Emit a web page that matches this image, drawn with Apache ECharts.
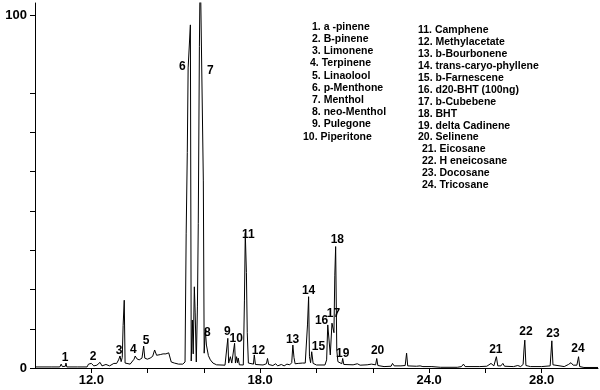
<!DOCTYPE html>
<html>
<head>
<meta charset="utf-8">
<script src="https://cdn.jsdelivr.net/npm/echarts@6/dist/echarts.min.js"></script>
<style>
  html, body { margin: 0; padding: 0; background: #fff; }
  #chart { width: 600px; height: 390px; }
</style>
</head>
<body>
<div id="chart"></div>
<script>
// ---- Data (retention time in minutes, relative abundance %) ----
const retentionTime = [
  10.00, 10.60, 10.88, 10.93, 10.97, 11.08, 11.10, 11.13, 11.50, 11.85,
  11.90, 11.95, 12.00, 12.06, 12.09, 12.20, 12.25, 12.31, 12.38, 12.45,
  12.52, 12.58, 12.65, 12.72, 12.80, 12.85, 12.90, 12.97, 13.02, 13.06,
  13.10, 13.13, 13.17, 13.20, 13.27, 13.38, 13.45, 13.52, 13.56, 13.62,
  13.70, 13.80, 13.86, 13.90, 13.99, 14.09, 14.18, 14.25, 14.32, 14.45,
  14.55, 14.65, 14.75, 14.80, 14.84, 14.95, 15.10, 15.25, 15.33, 15.37,
  15.41, 15.44, 15.48, 15.52, 15.55, 15.59, 15.62, 15.66, 15.69, 15.73,
  15.77, 15.80, 15.84, 15.87, 15.94, 15.98, 16.01, 16.05, 16.09, 16.16,
  16.23, 16.32, 16.45, 16.75, 16.82, 16.85, 16.88, 16.94, 16.99, 17.06,
  17.09, 17.12, 17.16, 17.19, 17.22, 17.26, 17.40, 17.44, 17.47, 17.51,
  17.54, 17.58, 17.65, 17.76, 17.79, 17.83, 18.10, 18.22, 18.26, 18.30,
  18.45, 18.55, 18.62, 18.75, 18.85, 18.95, 19.05, 19.12, 19.16, 19.20,
  19.24, 19.35, 19.50, 19.60, 19.65, 19.68, 19.72, 19.75, 19.79, 19.83,
  19.88, 20.00, 20.30, 20.36, 20.40, 20.44, 20.49, 20.55, 20.59, 20.62,
  20.65, 20.68, 20.72, 20.76, 20.90, 20.93, 20.97, 21.30, 21.45, 21.55,
  21.80, 21.95, 22.10, 22.14, 22.18, 22.40, 22.65, 22.70, 22.76, 23.00,
  23.15, 23.20, 23.24, 23.55, 23.68, 23.72, 23.78, 24.10, 24.40, 25.00,
  25.15, 25.22, 25.28, 25.80, 26.05, 26.20, 26.30, 26.39, 26.44, 26.55,
  26.62, 26.68, 27.00, 27.15, 27.25, 27.34, 27.37, 27.40, 27.44, 27.60,
  28.00, 28.30, 28.36, 28.40, 28.45, 28.80, 28.95, 29.04, 29.12, 29.25,
  29.31, 29.35, 29.50, 30.00
];
const abundance = [
  0.3, 0.3, 0.3, 1.1, 0.4, 0.5, 1.4, 0.3, 0.3, 0.3,
  1.1, 0.6, 1.3, 1.7, 0.6, 0.8, 0.4, 1.6, 0.6, 0.5,
  1.0, 0.5, 0.6, 0.9, 1.3, 1.6, 1.3, 2.3, 3.4, 1.8,
  3.0, 12.0, 19.2, 1.4, 1.1, 1.1, 1.3, 2.5, 3.4, 2.6,
  2.3, 2.8, 6.2, 2.8, 2.5, 2.8, 3.3, 5.1, 3.6, 3.8,
  4.0, 4.0, 4.3, 4.5, 1.7, 1.4, 1.1, 1.1, 1.7, 38.0,
  61.0, 85.0, 85.0, 97.2, 2.0, 13.6, 4.0, 23.0, 15.6, 1.7,
  17.3, 41.0, 91.0, 115.0, 115.0, 53.0, 4.2, 10.8, 6.5, 3.5,
  2.3, 1.4, 0.9, 0.8, 1.0, 8.4, 1.4, 3.2, 1.4, 1.2,
  7.0, 1.4, 3.2, 1.5, 2.8, 0.9, 0.85, 19.0, 38.2, 27.0,
  10.0, 1.4, 0.9, 1.1, 3.7, 1.0, 0.85, 1.2, 2.7, 1.0,
  0.7, 1.2, 0.6, 1.0, 0.6, 1.1, 0.9, 1.5, 6.5, 3.0,
  1.2, 1.3, 1.4, 1.4, 1.8, 12.2, 20.2, 3.2, 1.5, 4.6,
  1.3, 0.85, 0.85, 2.3, 12.2, 12.2, 3.7, 12.7, 13.1, 10.0,
  26.3, 34.4, 5.1, 1.8, 1.2, 2.7, 1.0, 0.9, 1.2, 0.8,
  0.9, 1.1, 0.9, 2.7, 0.7, 0.4, 0.5, 1.3, 0.6, 0.6,
  0.7, 4.2, 0.6, 0.5, 0.6, 1.1, 0.4, 0.4, 0.2, 0.2,
  0.4, 1.1, 0.4, 0.4, 0.5, 1.3, 0.6, 3.2, 0.6, 0.6,
  1.3, 0.5, 0.4, 0.7, 0.4, 1.0, 5.1, 7.9, 0.7, 0.4,
  0.4, 0.6, 7.7, 0.9, 0.4, 0.4, 1.0, 1.5, 0.8, 0.8,
  3.2, 0.4, 0.15, 0.15
];

// Peak number labels (placed at retention time / abundance)
const peakNames = ['1','2','3','4','5','6','7','8','9','10','11','12',
                   '13','14','15','16','17','18','19','20','21','22','23','24'];
const peakLabelTime = [11.07, 12.06, 12.99, 13.49, 13.95, 15.23, 16.23, 16.12, 16.83, 17.15, 17.58, 17.94,
                       19.15, 19.72, 20.07, 20.18, 20.60, 20.74, 20.93, 22.17, 26.37, 27.44, 28.40, 29.29];
const peakLabelHeight = [2.83, 3.12, 4.82, 5.10, 7.65, 85.3, 84.1, 9.92, 10.2, 8.22, 37.7, 4.82,
                         7.93, 21.8, 5.95, 13.3, 15.3, 36.3, 3.97, 4.82, 5.10, 10.2, 9.63, 5.38];

// Compound key
const keyLeft = ['1. a -pinene', '2. B-pinene', '3. Limonene', '4. Terpinene', '5. Linaolool',
                 '6. p-Menthone', '7. Menthol', '8. neo-Menthol', '9. Pulegone', '10. Piperitone'];
const keyRight = ['11. Camphene', '12. Methylacetate', '13. b-Bourbonene', '14. trans-caryo-phyllene',
                  '15. b-Farnescene', '16. d20-BHT (100ng)', '17. b-Cubebene', '18. BHT',
                  '19. delta Cadinene', '20. Selinene', '21. Eicosane', '22. H eneicosane',
                  '23. Docosane', '24. Tricosane'];

// Axis ticks
const xTickValues = [12, 14, 16, 18, 20, 22, 24, 26, 28];
const xLabelValues = [12, 18, 24, 28];
const yTickValues = [0, 11.1, 22.2, 33.3, 44.4, 55.6, 66.7, 77.8, 100];
const yLabelValues = [0, 100];

// ---- Chart ----
const FONT = '"Liberation Sans", Arial, sans-serif';
const chart = echarts.init(document.getElementById('chart'), null, { renderer: 'canvas' });

const traceData = retentionTime.map((t, i) => [t, abundance[i]]);
const labelData = peakNames.map((n, i) => ({ name: n, value: [peakLabelTime[i], peakLabelHeight[i]] }));

const keyGraphics = [];
keyLeft.forEach((s, i) => {
  let x = 312;
  if (i === 3) x = 310;
  if (i === 9) x = 303;
  keyGraphics.push({
    type: 'text', x: x, y: 27 + 12.2 * i,
    style: { text: s, font: 'bold 10.5px ' + FONT, fill: '#000', verticalAlign: 'middle' }
  });
});
keyRight.forEach((s, i) => {
  keyGraphics.push({
    type: 'text', x: i >= 10 ? 422 : 418, y: 30.5 + 11.9 * i,
    style: { text: s, font: 'bold 10.5px ' + FONT, fill: '#000', verticalAlign: 'middle' }
  });
});

chart.setOption({
  animation: false,
  backgroundColor: '#fff',
  grid: { left: 35, right: 2, top: 3, bottom: 22, containLabel: false },
  xAxis: {
    type: 'value', min: 10, max: 30,
    splitLine: { show: false },
    axisLine: { show: true, onZero: false, lineStyle: { color: '#000', width: 1 } },
    axisTick: { show: true, customValues: xTickValues, length: 5, lineStyle: { color: '#000' } },
    axisLabel: {
      customValues: xLabelValues, margin: 6, color: '#000',
      fontFamily: FONT, fontWeight: 'bold', fontSize: 13,
      formatter: v => v.toFixed(1)
    }
  },
  yAxis: {
    type: 'value', min: 0, max: 103.4,
    splitLine: { show: false },
    axisLine: { show: true, lineStyle: { color: '#000', width: 1 } },
    axisTick: { show: true, customValues: yTickValues, length: 5, lineStyle: { color: '#000' } },
    axisLabel: {
      customValues: yLabelValues, margin: 8, color: '#000',
      fontFamily: FONT, fontWeight: 'bold', fontSize: 13
    }
  },
  series: [
    {
      type: 'line',
      data: traceData,
      symbol: 'none',
      clip: true,
      lineStyle: { color: '#000', width: 1 },
      emphasis: { disabled: true },
      z: 2
    },
    {
      type: 'scatter',
      data: labelData,
      symbol: 'circle',
      symbolSize: 0.01,
      itemStyle: { color: '#000', opacity: 1 },
      emphasis: { disabled: true },
      silent: true,
      label: {
        show: true, position: [0, 0], align: 'center', verticalAlign: 'middle',
        formatter: p => p.name, opacity: 1,
        color: '#000', fontFamily: FONT, fontWeight: 'bold', fontSize: 12,
        textBorderWidth: 0
      },
      z: 3
    }
  ],
  graphic: keyGraphics
});
</script>
</body>
</html>
